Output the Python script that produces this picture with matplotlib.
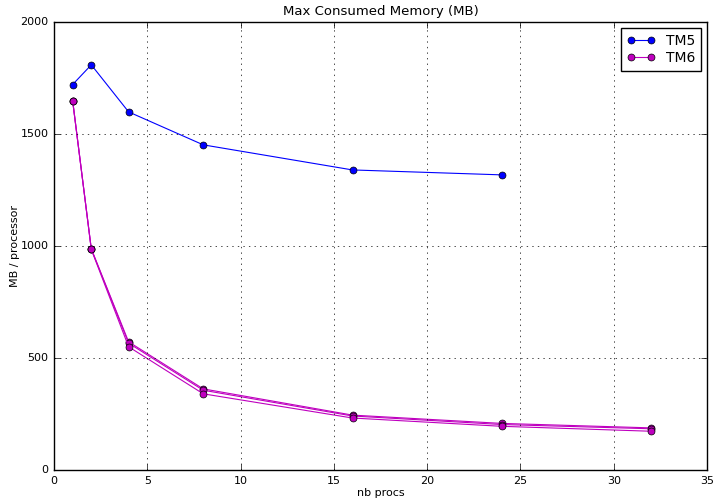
import matplotlib
matplotlib.use("Agg")
import matplotlib.pyplot as plt

plt.style.use('classic')

tm5_procs = [1, 2, 4, 8, 16, 24]
tm5_mem = [1720, 1808, 1598, 1451, 1339, 1317]

tm6_procs = [1, 2, 4, 8, 16, 24, 32]
tm6_runs = [
    [1648, 987, 572, 362, 245, 208, 188],
    [1648, 986, 566, 356, 241, 203, 184],
    [1648, 984, 550, 340, 232, 195, 173],
]

fig = plt.figure(figsize=(7.14, 4.98), dpi=100)
ax = fig.add_axes([0.0756, 0.0562, 0.9146, 0.9])
ax.plot(tm5_procs, tm5_mem, 'b-o', lw=0.8, ms=5, label='TM5')
for i, run in enumerate(tm6_runs):
    ax.plot(tm6_procs, run, '-o', color='m', lw=0.8, ms=5,
            label='TM6' if i == 0 else None)
ax.set_xlim(0, 35)
ax.set_ylim(0, 2000)
ax.set_xticks(range(0, 36, 5))
ax.set_yticks(range(0, 2001, 500))
ax.tick_params(labelsize=8)
ax.grid(True)
ax.set_title('Max Consumed Memory (MB)', fontsize=9.5)
ax.set_xlabel('nb procs', fontsize=8, labelpad=2)
ax.set_ylabel('MB / processor', fontsize=8, labelpad=0)
ax.legend(loc='upper right', fontsize=10, numpoints=2, handlelength=2.0,
          borderaxespad=0.45, labelspacing=0.25, borderpad=0.4)
fig.savefig('out.png', dpi=100)
